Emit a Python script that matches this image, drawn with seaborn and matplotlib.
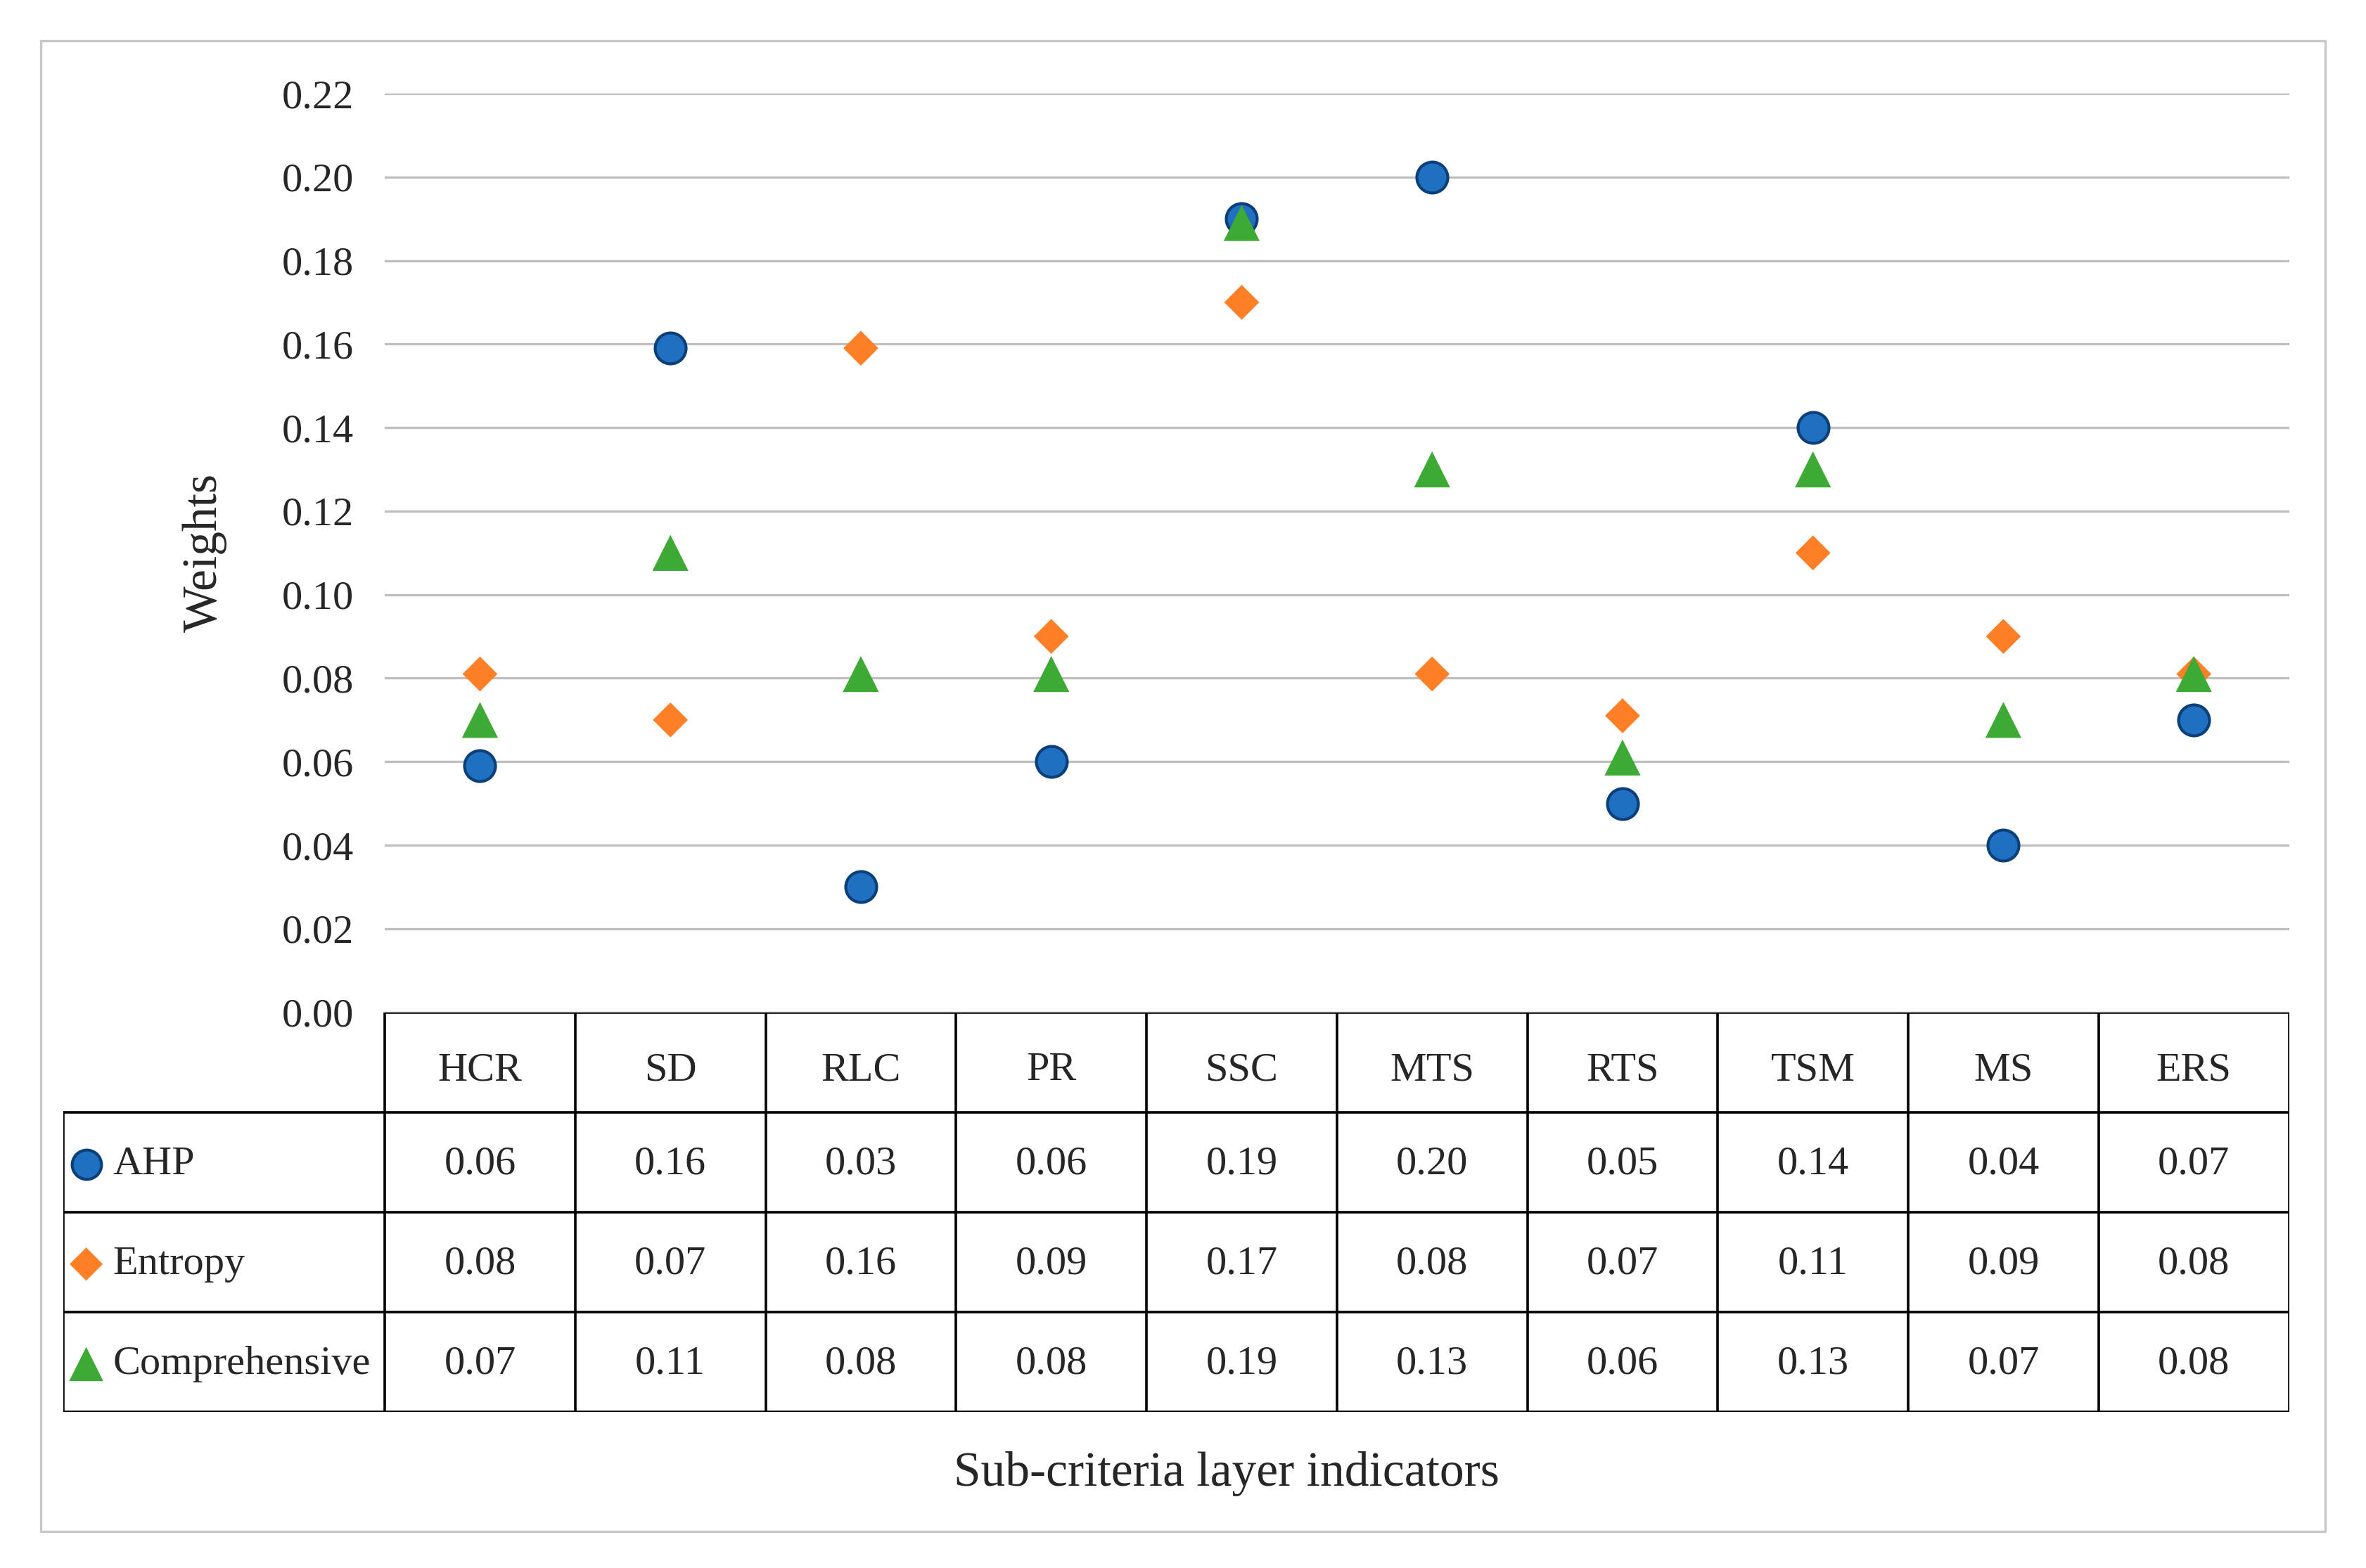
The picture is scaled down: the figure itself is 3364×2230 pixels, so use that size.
import matplotlib
matplotlib.use("Agg")
import matplotlib.pyplot as plt
import numpy as np
import pandas as pd
import seaborn as sns

# indicators on the x axis
categories = ["HCR", "SD", "RLC", "PR", "SSC", "MTS", "RTS", "TSM", "MS", "ERS"]

ahp = [0.059, 0.159, 0.030, 0.060, 0.190, 0.200, 0.050, 0.140, 0.040, 0.070]
entropy = [0.081, 0.070, 0.159, 0.090, 0.170, 0.081, 0.071, 0.110, 0.090, 0.081]
comprehensive = [0.070, 0.110, 0.081, 0.081, 0.189, 0.130, 0.061, 0.130, 0.070, 0.081]

methods = ["AHP", "Entropy", "Comprehensive"]
yticks = [0.00, 0.02, 0.04, 0.06, 0.08, 0.10, 0.12, 0.14, 0.16, 0.18, 0.20, 0.22]

colors = {"AHP": "#1F70C1", "Entropy": "#FF7F27", "Comprehensive": "#3DAA35"}
markers = {"AHP": "o", "Entropy": "D", "Comprehensive": "^"}
sizes = {"AHP": 250, "Entropy": 160, "Comprehensive": 340}
edges = {"AHP": "#0B3F7A", "Entropy": "none", "Comprehensive": "none"}

series = {"AHP": ahp, "Entropy": entropy, "Comprehensive": comprehensive}

sns.set_theme(style="white")
plt.rcParams["font.family"] = ["Liberation Serif", "DejaVu Serif"]

W, H = 1568.0, 1039.4  # layout reference frame


def fx(x):
    return x / W


def fy(y):
    return 1 - y / H


fig = plt.figure(figsize=(16.82, 11.15), dpi=200)

# light outer frame
fig.patches.append(plt.Rectangle((fx(27), fy(1015)), fx(1541) - fx(27), fy(27) - fy(1015),
                                 transform=fig.transFigure, fill=False,
                                 edgecolor="#C8C8C8", linewidth=1.2))

ax = fig.add_axes([fx(255), fy(671), fx(1517) - fx(255), fy(62) - fy(671)])
x = np.arange(len(categories))
for m in methods:
    df = pd.DataFrame({"x": x, "w": series[m]})
    sns.scatterplot(data=df, x="x", y="w", ax=ax, marker=markers[m], s=sizes[m],
                    color=colors[m], edgecolor=edges[m], linewidth=1.5, zorder=3)

ax.set_xlim(-0.5, len(categories) - 0.5)
ax.set_ylim(0, 0.22)
ax.set_yticks(yticks)
ax.set_yticklabels([f"{t:.2f}" for t in yticks], fontsize=21)
ax.set_xticks([])
ax.set_xlabel("")
ax.set_ylabel("Weights", fontsize=25, labelpad=28)
ax.tick_params(axis="y", length=0, pad=16)
ax.grid(axis="y", color="#BFBFBF", linewidth=1.2)
for s in ax.spines.values():
    s.set_visible(False)

# data table under the plot
leg_w = (255 - 42) / ((1517 - 255) / len(categories))
tab = fig.add_axes([fx(42), fy(936), fx(1517) - fx(42), fy(671) - fy(936)])
x0 = -0.5 - leg_w
x1 = len(categories) - 0.5
tab.set_xlim(x0, x1)
tab.set_ylim(0, 4)
tab.axis("off")
lw = 1.3
tab.plot([-0.5, x1], [4, 4], color="black", lw=lw)
for yy in [3, 2, 1, 0]:
    tab.plot([x0, x1], [yy, yy], color="black", lw=lw)
tab.plot([x0, x0], [0, 3], color="black", lw=lw)
for xx in np.arange(-0.5, len(categories), 1.0):
    tab.plot([xx, xx], [0, 4], color="black", lw=lw)

for i, c in enumerate(categories):
    tab.text(i, 3.42, c, ha="center", va="center", fontsize=21)
for r, m in enumerate(methods):
    yc = 2.48 - r
    tab.scatter([x0 + 0.12], [yc], marker=markers[m], s=sizes[m] * 0.9,
                color=colors[m], edgecolors=edges[m], linewidths=1.5, clip_on=False)
    tab.text(x0 + 0.26, yc, m, ha="left", va="center", fontsize=21)
    for i, v in enumerate(series[m]):
        tab.text(i, yc, f"{v:.2f}", ha="center", va="center", fontsize=21)

fig.text(fx(813), fy(977), "Sub-criteria layer indicators", ha="center", va="center", fontsize=25)

fig.savefig("out.png", dpi=200, facecolor="white")
